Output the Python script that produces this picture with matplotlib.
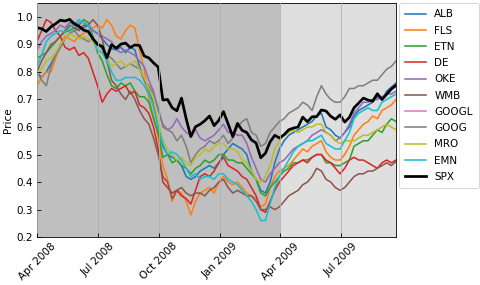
import numpy as np
import pandas as pd
import matplotlib
matplotlib.use("Agg")
import matplotlib.pyplot as plt
import matplotlib.dates as mdates

# weekly observations, normalised price (price / max price)
dates = pd.date_range("2008-04-01", periods=78, freq="7D")

ALB = [0.80, 0.78, 0.80, 0.83, 0.86, 0.89, 0.92, 0.94, 0.95, 0.96,
       0.96, 0.97, 0.95, 0.94, 0.92, 0.90, 0.885, 0.88, 0.89, 0.87,
       0.89, 0.88, 0.82, 0.77, 0.73, 0.69, 0.60, 0.53, 0.50, 0.49,
       0.48, 0.46, 0.42, 0.41, 0.42, 0.44, 0.45, 0.46, 0.45, 0.47,
       0.50, 0.52, 0.54, 0.53, 0.52, 0.50, 0.44, 0.41, 0.37, 0.36,
       0.40, 0.47, 0.52, 0.55, 0.57, 0.58, 0.59, 0.60, 0.61, 0.62,
       0.64, 0.65, 0.60, 0.59, 0.57, 0.56, 0.58, 0.60, 0.64, 0.66,
       0.67, 0.68, 0.69, 0.71, 0.70, 0.73, 0.745, 0.76]

FLS = [0.75, 0.78, 0.80, 0.80, 0.85, 0.90, 0.93, 0.92, 0.91, 0.93,
       0.94, 0.95, 0.96, 0.97, 0.96, 0.99, 0.97, 0.93, 0.92, 0.95,
       0.97, 0.96, 0.88, 0.81, 0.70, 0.64, 0.56, 0.46, 0.41, 0.33,
       0.37, 0.36, 0.33, 0.28, 0.33, 0.36, 0.37, 0.38, 0.36, 0.40,
       0.42, 0.40, 0.39, 0.40, 0.38, 0.36, 0.35, 0.34, 0.31, 0.32,
       0.38, 0.42, 0.44, 0.45, 0.46, 0.48, 0.50, 0.52, 0.51, 0.53,
       0.54, 0.55, 0.51, 0.49, 0.48, 0.48, 0.50, 0.53, 0.57, 0.59,
       0.61, 0.62, 0.64, 0.63, 0.66, 0.67, 0.68, 0.70]

ETN = [0.85, 0.86, 0.87, 0.89, 0.91, 0.93, 0.945, 0.95, 0.96, 0.97,
       0.99, 0.98, 0.93, 0.87, 0.84, 0.79, 0.75, 0.74, 0.76, 0.75,
       0.76, 0.73, 0.71, 0.71, 0.69, 0.63, 0.58, 0.49, 0.50, 0.47,
       0.48, 0.46, 0.45, 0.43, 0.45, 0.46, 0.48, 0.47, 0.48, 0.50,
       0.50, 0.48, 0.48, 0.47, 0.47, 0.45, 0.43, 0.41, 0.36, 0.35,
       0.38, 0.40, 0.42, 0.44, 0.45, 0.47, 0.47, 0.48, 0.48, 0.49,
       0.50, 0.50, 0.47, 0.47, 0.46, 0.46, 0.47, 0.48, 0.53, 0.54,
       0.55, 0.55, 0.57, 0.59, 0.58, 0.61, 0.63, 0.62]

DE = [0.91, 0.95, 0.99, 0.98, 0.95, 0.93, 0.89, 0.88, 0.89, 0.86,
      0.87, 0.85, 0.80, 0.75, 0.69, 0.72, 0.74, 0.73, 0.74, 0.75,
      0.72, 0.73, 0.68, 0.67, 0.65, 0.60, 0.52, 0.40, 0.38, 0.36,
      0.37, 0.35, 0.34, 0.32, 0.37, 0.42, 0.43, 0.42, 0.44, 0.47,
      0.49, 0.46, 0.45, 0.44, 0.42, 0.41, 0.38, 0.35, 0.30, 0.29,
      0.33, 0.37, 0.40, 0.42, 0.44, 0.46, 0.47, 0.48, 0.47, 0.49,
      0.50, 0.50, 0.48, 0.47, 0.45, 0.43, 0.45, 0.48, 0.49, 0.48,
      0.48, 0.47, 0.46, 0.45, 0.47, 0.48, 0.47, 0.48]

OKE = [0.88, 0.91, 0.93, 0.94, 0.95, 0.97, 0.96, 0.98, 0.97, 0.98,
       0.98, 0.97, 0.95, 0.94, 0.93, 0.92, 0.91, 0.88, 0.87, 0.88,
       0.87, 0.86, 0.84, 0.82, 0.77, 0.73, 0.66, 0.61, 0.59, 0.60,
       0.63, 0.60, 0.58, 0.57, 0.59, 0.56, 0.55, 0.56, 0.57, 0.59,
       0.61, 0.58, 0.58, 0.57, 0.57, 0.54, 0.49, 0.45, 0.41, 0.40,
       0.43, 0.45, 0.47, 0.48, 0.50, 0.52, 0.53, 0.54, 0.55, 0.57,
       0.58, 0.59, 0.58, 0.57, 0.55, 0.56, 0.58, 0.61, 0.65, 0.67,
       0.69, 0.69, 0.70, 0.70, 0.71, 0.72, 0.72, 0.73]

WMB = [0.80, 0.84, 0.87, 0.90, 0.91, 0.93, 0.95, 0.97, 0.96, 0.95,
       0.97, 0.97, 0.99, 0.97, 0.92, 0.84, 0.77, 0.75, 0.72, 0.70,
       0.73, 0.70, 0.66, 0.63, 0.61, 0.56, 0.50, 0.42, 0.40, 0.34,
       0.37, 0.38, 0.36, 0.35, 0.36, 0.36, 0.35, 0.37, 0.38, 0.40,
       0.41, 0.38, 0.36, 0.37, 0.36, 0.35, 0.35, 0.33, 0.30, 0.30,
       0.31, 0.30, 0.31, 0.33, 0.35, 0.36, 0.37, 0.39, 0.40, 0.42,
       0.45, 0.44, 0.41, 0.40, 0.38, 0.37, 0.38, 0.40, 0.42, 0.43,
       0.43, 0.44, 0.44, 0.45, 0.46, 0.47, 0.46, 0.475]

# GOOGL has no prices in this period (shows only in the legend)
GOOGL = [np.nan] * 78

GOOG = [0.80, 0.77, 0.75, 0.82, 0.86, 0.89, 0.92, 0.94, 0.95, 0.93,
        0.92, 0.91, 0.92, 0.90, 0.885, 0.86, 0.85, 0.83, 0.81, 0.82,
        0.83, 0.82, 0.81, 0.77, 0.75, 0.72, 0.67, 0.60, 0.59, 0.58,
        0.55, 0.57, 0.53, 0.47, 0.50, 0.52, 0.53, 0.55, 0.54, 0.55,
        0.57, 0.54, 0.56, 0.60, 0.62, 0.63, 0.58, 0.57, 0.53, 0.54,
        0.58, 0.60, 0.62, 0.63, 0.65, 0.66, 0.67, 0.69, 0.68, 0.66,
        0.71, 0.75, 0.72, 0.70, 0.69, 0.69, 0.71, 0.74, 0.74, 0.75,
        0.75, 0.76, 0.77, 0.77, 0.79, 0.81, 0.82, 0.84]

MRO = [0.79, 0.81, 0.84, 0.85, 0.87, 0.90, 0.92, 0.94, 0.93, 0.92,
       0.93, 0.92, 0.91, 0.88, 0.87, 0.85, 0.82, 0.83, 0.84, 0.82,
       0.83, 0.84, 0.81, 0.78, 0.74, 0.70, 0.62, 0.55, 0.52, 0.50,
       0.48, 0.49, 0.47, 0.46, 0.49, 0.50, 0.52, 0.51, 0.53, 0.54,
       0.54, 0.52, 0.52, 0.51, 0.48, 0.47, 0.44, 0.41, 0.40, 0.42,
       0.46, 0.52, 0.55, 0.57, 0.58, 0.59, 0.58, 0.59, 0.60, 0.60,
       0.61, 0.61, 0.58, 0.57, 0.55, 0.54, 0.55, 0.55, 0.55, 0.56,
       0.57, 0.57, 0.58, 0.59, 0.60, 0.61, 0.60, 0.59]

EMN = [0.82, 0.86, 0.91, 0.93, 0.94, 0.95, 0.945, 0.96, 0.975, 0.99,
       0.98, 0.97, 0.92, 0.88, 0.87, 0.84, 0.80, 0.77, 0.77, 0.78,
       0.78, 0.78, 0.77, 0.75, 0.72, 0.67, 0.60, 0.54, 0.50, 0.51,
       0.50, 0.48, 0.45, 0.42, 0.43, 0.41, 0.42, 0.42, 0.41, 0.43,
       0.43, 0.41, 0.40, 0.39, 0.37, 0.35, 0.33, 0.30, 0.26, 0.26,
       0.32, 0.38, 0.42, 0.45, 0.48, 0.51, 0.53, 0.54, 0.55, 0.55,
       0.56, 0.57, 0.54, 0.53, 0.52, 0.52, 0.55, 0.58, 0.63, 0.65,
       0.66, 0.67, 0.66, 0.66, 0.69, 0.70, 0.71, 0.72]

SPX = [0.961, 0.957, 0.947, 0.964, 0.975, 0.988, 0.985, 0.991, 0.975, 0.966,
       0.952, 0.947, 0.921, 0.900, 0.893, 0.851, 0.899, 0.886, 0.901, 0.905,
       0.889, 0.898, 0.896, 0.858, 0.851, 0.833, 0.818, 0.698, 0.700, 0.670,
       0.659, 0.705, 0.630, 0.565, 0.601, 0.610, 0.623, 0.640, 0.605, 0.624,
       0.656, 0.611, 0.565, 0.613, 0.588, 0.580, 0.553, 0.542, 0.488, 0.505,
       0.546, 0.570, 0.560, 0.572, 0.590, 0.596, 0.600, 0.636, 0.619, 0.637,
       0.638, 0.662, 0.658, 0.639, 0.628, 0.644, 0.618, 0.635, 0.670, 0.687,
       0.705, 0.698, 0.694, 0.721, 0.700, 0.719, 0.738, 0.751]

tickers = ["ALB", "FLS", "ETN", "DE", "OKE", "WMB", "GOOGL", "GOOG", "MRO", "EMN"]
series = [ALB, FLS, ETN, DE, OKE, WMB, GOOGL, GOOG, MRO, EMN]
split_date = pd.Timestamp("2009-04-01")

fig = plt.figure(figsize=(6.4, 3.8), dpi=75)
ax = fig.add_axes([0.077, 0.168, 0.748, 0.821])

ax.axvspan(dates[0], split_date, color="gray", alpha=0.5, lw=0, zorder=0.5)
ax.axvspan(split_date, dates[-1], color="gray", alpha=0.25, lw=0, zorder=0.5)

for name, vals in zip(tickers, series):
    ax.plot(dates, vals, lw=1.5, label=name, zorder=2)
ax.plot(dates, SPX, color="black", lw=2.6, label="SPX", zorder=2)

ax.set_xlim(dates[0], dates[-1])
ax.set_ylim(0.2, 1.05)
ax.set_yticks(np.arange(0.2, 1.01, 0.1))
ax.xaxis.set_major_locator(mdates.MonthLocator(bymonth=[1, 4, 7, 10]))
ax.xaxis.set_major_formatter(mdates.DateFormatter("%b %Y"))
ax.tick_params(direction="in")
plt.setp(ax.get_xticklabels(), rotation=45, ha="center")
ax.grid(True, axis="x", zorder=1)
ax.set_axisbelow(False)
for gl in ax.get_xgridlines():
    gl.set_zorder(1)
ax.set_ylabel("Price")
ax.legend(loc="upper left", bbox_to_anchor=(1.008, 1.0), borderaxespad=0,
          labelspacing=0.6, borderpad=0.6)

fig.savefig("out.png", dpi=75)
